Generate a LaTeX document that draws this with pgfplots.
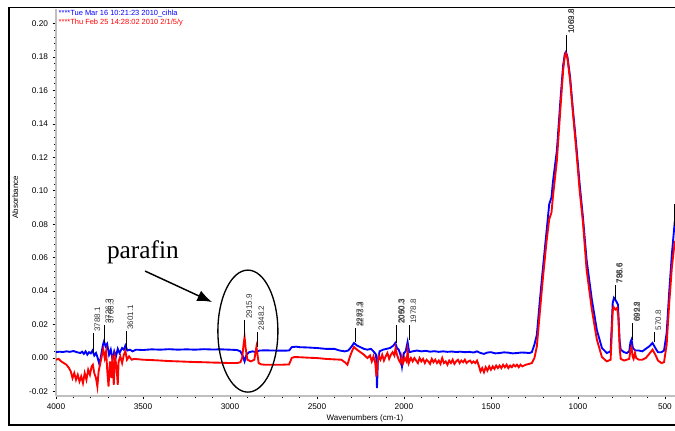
\documentclass[border=0pt]{standalone}
\usepackage{pgfplots}
\pgfplotsset{compat=1.18}
\usetikzlibrary{arrows.meta}
\usepackage{fontspec}
\setmainfont{Liberation Sans}
\newfontfamily\parafont{Liberation Serif}
\tikzset{pklab/.style={rotate=90, anchor=north west, inner sep=1pt, text=black!80, font=\fontsize{6}{6.5}\selectfont}}
\newcommand{\pk}[4]{%
  \addplot[black, line width=0.45pt, forget plot] coordinates {(#1,#2) (#1,#3)};
  \node[pklab] at (axis cs:#1,#3) {#4};}
\begin{document}
\begin{tikzpicture}[x=1pt,y=1pt]
\path[use as bounding box] (-42pt,-25.5pt) rectangle (464.25pt,297pt);
\begin{axis}[name=ax, at={(0pt,0pt)}, anchor=south west, scale only axis,
  width=464.25pt, height=290.625pt,
  x dir=reverse, xmin=442, xmax=4000, ymin=-0.0227, ymax=0.209,
  axis x line*=bottom, axis y line*=left,
  axis line style={-, draw=black!25, line width=1.1pt},
  xtick={500,1000,1500,2000,2500,3000,3500,4000}, minor x tick num=4,
  ytick={-0.02,0,0.02,0.04,0.06,0.08,0.10,0.12,0.14,0.16,0.18,0.20}, minor y tick num=4,
  tick align=outside, major tick length=2.5pt, minor tick length=1.3pt,
  tick style={black, line width=0.5pt},
  tick label style={font=\fontsize{6.2}{7}\selectfont},
  /pgf/number format/assume math mode=true,
  xticklabel style={/pgf/number format/set thousands separator={}},
  yticklabel style={/pgf/number format/.cd, fixed, fixed zerofill, precision=2},
  clip=true,
]
% blue: Tue Mar 16 10:21:23 2010_cihla
\addplot[blue, line width=1.4pt] coordinates {
(4000,0.0035) (3980,0.0038) (3960,0.0036) (3940,0.0040) (3920,0.0037) (3900,0.0042)
(3880,0.0035) (3860,0.0030) (3850,0.0038) (3840,0.0025) (3830,0.0040) (3820,0.0020)
(3810,0.0035) (3800,0.0028) (3790,0.0045) (3780,0.0015) (3770,0.0030) (3760,0.0000)
(3750,-0.0040) (3740,0.0020) (3730,0.0080) (3724,0.0100) (3715,0.0070) (3706,0.0085)
(3695,0.0020) (3685,0.0050) (3675,-0.0010) (3665,0.0040) (3655,0.0010) (3645,0.0055)
(3635,0.0030) (3620,0.0060) (3610,0.0050) (3601,0.0075) (3590,0.0045) (3575,0.0050)
(3560,0.0040) (3540,0.0050) (3500,0.0048) (3450,0.0052) (3400,0.0050) (3350,0.0053)
(3300,0.0050) (3250,0.0052) (3200,0.0050) (3150,0.0053) (3100,0.0051) (3050,0.0052)
(3000,0.0050) (2960,0.0048) (2940,0.0040) (2925,0.0010) (2916,-0.0020) (2905,0.0020)
(2890,0.0035) (2870,0.0040) (2850,0.0035) (2830,0.0045) (2800,0.0046) (2750,0.0045)
(2700,0.0044) (2660,0.0045) (2645,0.0065) (2620,0.0068) (2600,0.0065) (2550,0.0063)
(2500,0.0060) (2450,0.0055) (2400,0.0055) (2370,0.0045) (2340,0.0040) (2320,0.0045)
(2300,0.0070) (2287,0.0090) (2270,0.0075) (2250,0.0065) (2230,0.0055) (2210,0.0050)
(2190,0.0055) (2175,0.0040) (2160,0.0020) (2155,-0.0180) (2150,-0.0020) (2140,0.0040)
(2120,0.0050) (2100,0.0055) (2080,0.0060) (2060,0.0075) (2050,0.0090) (2040,0.0060)
(2030,0.0050) (2020,0.0020) (2011,-0.0050) (2000,0.0030) (1990,0.0040) (1979,0.0096)
(1970,0.0035) (1950,0.0040) (1925,0.0045) (1900,0.0040) (1875,0.0043) (1850,0.0038)
(1825,0.0041) (1800,0.0037) (1775,0.0040) (1750,0.0037) (1725,0.0039) (1700,0.0036)
(1675,0.0038) (1650,0.0035) (1625,0.0037) (1600,0.0033) (1580,0.0040) (1560,0.0030)
(1540,0.0025) (1520,0.0033) (1500,0.0035) (1475,0.0028) (1450,0.0030) (1425,0.0034)
(1400,0.0032) (1375,0.0028) (1350,0.0030) (1325,0.0033) (1300,0.0032) (1280,0.0030)
(1265,0.0035) (1250,0.0080) (1236,0.0140) (1220,0.0330) (1201,0.0540) (1180,0.0760)
(1165,0.0920) (1152,0.0960) (1144,0.1050) (1121,0.1240) (1100,0.1550) (1085,0.1750)
(1075,0.1820) (1069,0.1830) (1060,0.1800) (1045,0.1680) (1030,0.1500) (1010,0.1280)
(990,0.1040) (971,0.0840) (950,0.0586) (920,0.0350) (891,0.0167) (862,0.0060)
(834,0.0030) (812,0.0040) (800,0.0330) (793,0.0360) (780,0.0340) (770,0.0320)
(760,0.0100) (754,0.0050) (735,0.0035) (719,0.0030) (705,0.0040) (698,0.0095)
(692,0.0110) (684,0.0060) (670,0.0045) (650,0.0045) (630,0.0040) (610,0.0055)
(590,0.0070) (571,0.0090) (555,0.0060) (540,0.0035) (520,0.0035) (505,0.0045)
(490,0.0150) (475,0.0400) (460,0.0620) (443,0.0820)
};
% red: Thu Feb 25 14:28:02 2010 2/1/5/y
\addplot[red, line width=1.4pt] coordinates {
(4000,-0.0010) (3985,-0.0005) (3970,-0.0020) (3955,-0.0030) (3940,-0.0040) (3925,-0.0060)
(3915,-0.0080) (3905,-0.0120) (3895,-0.0090) (3885,-0.0130) (3875,-0.0100) (3865,-0.0140)
(3855,-0.0110) (3845,-0.0150) (3835,-0.0090) (3825,-0.0130) (3815,-0.0070) (3805,-0.0100)
(3795,-0.0050) (3788,-0.0040) (3780,-0.0090) (3770,-0.0120) (3762,-0.0170) (3755,-0.0080)
(3745,-0.0030) (3735,0.0020) (3728,0.0050) (3720,0.0000) (3712,0.0040) (3705,-0.0080)
(3698,-0.0170) (3690,-0.0020) (3682,-0.0120) (3675,0.0020) (3668,-0.0160) (3660,0.0000)
(3652,-0.0050) (3645,-0.0160) (3640,-0.0020) (3630,0.0010) (3620,-0.0030) (3610,0.0020)
(3601,0.0040) (3592,-0.0010) (3580,0.0010) (3565,-0.0010) (3550,-0.0005) (3500,-0.0010)
(3450,-0.0012) (3400,-0.0015) (3350,-0.0018) (3300,-0.0020) (3250,-0.0022) (3200,-0.0024)
(3150,-0.0025) (3100,-0.0027) (3050,-0.0028) (3000,-0.0030) (2960,-0.0030) (2940,-0.0025)
(2930,0.0000) (2922,0.0080) (2916,0.0126) (2910,0.0060) (2900,-0.0010) (2880,-0.0020)
(2860,-0.0010) (2852,0.0040) (2848,0.0066) (2843,0.0030) (2835,-0.0030) (2820,-0.0038)
(2800,-0.0040) (2750,-0.0040) (2700,-0.0040) (2660,-0.0038) (2645,0.0000) (2630,0.0006)
(2600,0.0005) (2550,0.0002) (2500,0.0000) (2450,-0.0005) (2400,-0.0008) (2360,-0.0010)
(2340,-0.0025) (2325,-0.0040) (2310,0.0010) (2295,0.0050) (2287,0.0066) (2270,0.0050)
(2250,0.0035) (2230,0.0020) (2210,0.0000) (2195,0.0015) (2185,-0.0020) (2175,0.0010)
(2165,-0.0030) (2158,-0.0110) (2152,-0.0030) (2145,0.0010) (2135,-0.0010) (2125,0.0020)
(2115,-0.0015) (2105,0.0010) (2095,0.0030) (2085,-0.0005) (2075,0.0020) (2065,0.0035)
(2055,0.0015) (2048,0.0060) (2040,0.0020) (2030,-0.0010) (2020,-0.0030) (2012,0.0010)
(2005,-0.0030) (1995,0.0000) (1985,-0.0020) (1979,0.0040) (1972,-0.0030) (1960,0.0000)
(1950,-0.0020) (1940,0.0000) (1930,-0.0015) (1920,-0.0030) (1910,0.0000) (1900,-0.0020)
(1890,-0.0005) (1880,-0.0030) (1870,-0.0010) (1860,-0.0020) (1850,-0.0035) (1840,-0.0005)
(1830,-0.0025) (1820,-0.0010) (1810,-0.0030) (1800,-0.0015) (1790,-0.0035) (1780,0.0000)
(1770,-0.0030) (1760,-0.0020) (1750,-0.0040) (1740,-0.0015) (1730,-0.0030) (1720,-0.0010)
(1710,-0.0035) (1700,-0.0020) (1690,-0.0010) (1680,-0.0030) (1670,-0.0015) (1660,-0.0025)
(1650,-0.0010) (1640,-0.0030) (1630,-0.0020) (1620,-0.0015) (1610,-0.0030) (1600,-0.0020)
(1590,-0.0030) (1580,-0.0015) (1570,-0.0045) (1560,-0.0080) (1550,-0.0060) (1540,-0.0085)
(1530,-0.0055) (1520,-0.0075) (1510,-0.0050) (1500,-0.0070) (1490,-0.0050) (1480,-0.0065)
(1470,-0.0045) (1460,-0.0060) (1450,-0.0045) (1440,-0.0060) (1430,-0.0040) (1420,-0.0055)
(1410,-0.0040) (1400,-0.0060) (1390,-0.0045) (1380,-0.0055) (1370,-0.0040) (1360,-0.0050)
(1350,-0.0040) (1340,-0.0055) (1330,-0.0040) (1320,-0.0050) (1300,-0.0040) (1280,-0.0035)
(1265,-0.0030) (1250,0.0000) (1236,0.0070) (1220,0.0260) (1201,0.0480) (1180,0.0700)
(1165,0.0830) (1152,0.0870) (1144,0.0960) (1121,0.1180) (1100,0.1500) (1085,0.1720)
(1075,0.1810) (1069,0.1824) (1060,0.1790) (1045,0.1660) (1030,0.1480) (1010,0.1250)
(990,0.1000) (971,0.0810) (950,0.0526) (920,0.0290) (891,0.0110) (862,0.0006)
(834,-0.0020) (812,-0.0010) (800,0.0280) (795,0.0305) (785,0.0290) (775,0.0300)
(768,0.0250) (760,0.0060) (754,-0.0005) (735,-0.0015) (719,-0.0010) (705,-0.0005)
(698,0.0050) (692,0.0066) (686,0.0010) (680,-0.0005) (672,0.0030) (665,0.0000)
(650,-0.0010) (630,-0.0010) (610,0.0000) (590,0.0025) (571,0.0050) (555,0.0020)
(540,-0.0015) (520,-0.0030) (505,-0.0025) (490,0.0080) (475,0.0330) (460,0.0540)
(443,0.0700)
};
% peak labels
\pk{3788}{0.003}{0.0148}{3788.1}
\pk{3724}{0.009}{0.0197}{3726.3}
\node[pklab] at (axis cs:3710,0.0197) {3706.3};
\pk{3598}{0.0048}{0.0161}{3601.1}
\pk{2916}{0.0126}{0.0227}{2915.9}
\pk{2845}{0.0068}{0.0157}{2848.2}
\pk{2282}{0.0098}{0.0178}{2287.3}
\node[pklab] at (axis cs:2274,0.0178) {2273.3};
\pk{2042}{0.0088}{0.0197}{2060.3}
\node[pklab] at (axis cs:2038,0.0197) {2050.3};
\pk{1971}{0.0108}{0.0197}{1978.8}
\pk{1065}{0.183}{0.193}{1069.8}
\node[pklab] at (axis cs:1063,0.193) {1063.8};
\pk{788}{0.0347}{0.0437}{798.6}
\node[pklab] at (axis cs:784,0.0437) {786.6};
\pk{688}{0.0108}{0.0207}{699.8}
\node[pklab] at (axis cs:684,0.0207) {692.2};
\pk{563}{0.0098}{0.0157}{570.8}
\addplot[black, line width=0.45pt, forget plot] coordinates {(447,0.079) (447,0.092)};
% legend text
\node[anchor=west, inner sep=0pt, text=blue, font=\fontsize{5.6}{6}\selectfont] at (rel axis cs:0.004,0.986) {****Tue Mar 16 10:21:23 2010\_cihla};
\node[anchor=west, inner sep=0pt, text=red, font=\fontsize{5.6}{6}\selectfont] at (rel axis cs:0.004,0.9626) {****Thu Feb 25 14:28:02 2010 2/1/5/y};
% annotation
\draw[line width=1pt] (axis cs:2897,0.0161) ellipse [x radius=22.5pt, y radius=45.75pt];
\draw[line width=1.1pt, -{Latex[length=11pt, width=8.5pt]}] (axis cs:3488,0.0520) -- (axis cs:3103,0.0335);
\node[anchor=base west, inner sep=0pt, font=\parafont\fontsize{19}{22}\selectfont] at (axis cs:3708,0.0598) {parafin};
\end{axis}
\node[rotate=90, font=\fontsize{6}{7}\selectfont] at (-30.5pt,149.25pt) {Absorbance};
\node[font=\fontsize{6}{7}\selectfont] at (231.75pt,-16.5pt) {Wavenumbers (cm-1)};
\draw[line width=1.2pt] (470pt,291.4pt) -- (-35.25pt,291.4pt) -- (-35.25pt,-21.75pt) -- (470pt,-21.75pt);
\end{tikzpicture}
\end{document}
